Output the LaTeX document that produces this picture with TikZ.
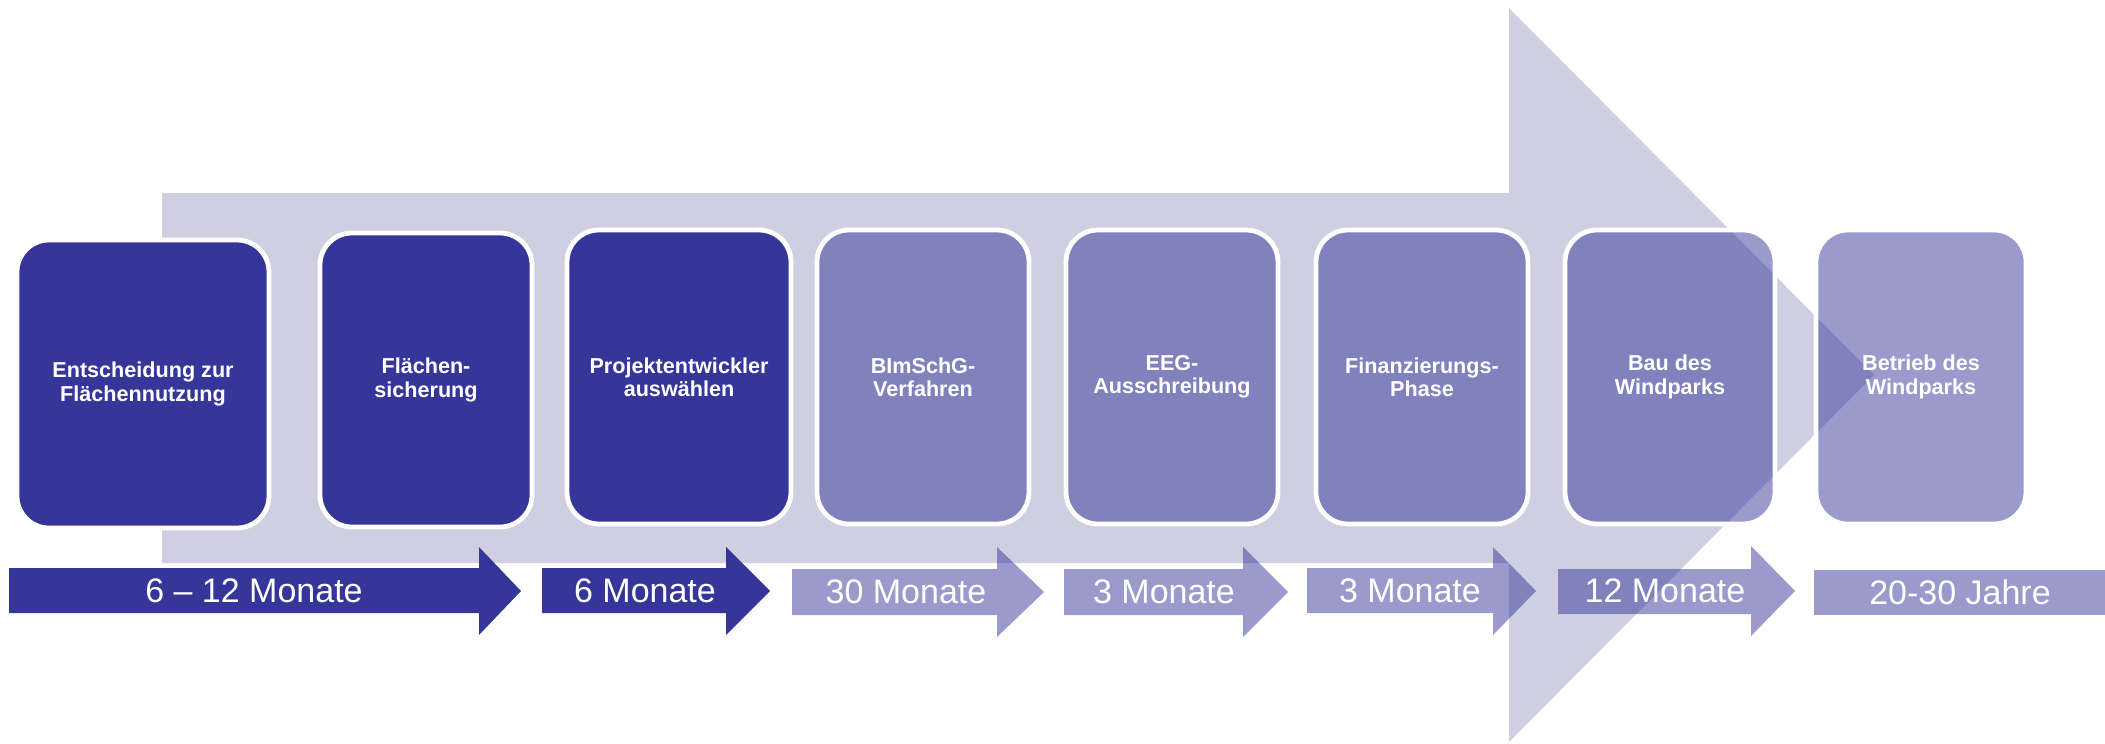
\documentclass[tikz,border=0pt]{standalone}
\usepackage{fontspec}
\setmainfont{Liberation Sans}
\usepackage{xcolor}
\definecolor{Indigo}{HTML}{35359A}
\definecolor{Haze}{HTML}{CFCFE1}
\colorlet{indigo}{Indigo}
\colorlet{haze}{Haze}
\usepackage{tikz}

\begin{document}
\begin{tikzpicture}[x=0.5pt,y=-0.5pt,
  stage/.style={draw=white,line width=2.4pt,rounded corners=16pt,text=white,inner sep=0pt,
    font=\fontsize{10.8}{11.7}\selectfont\bfseries,align=center,minimum height=147pt},
  donestage/.style={stage,fill=indigo},
  nextstage/.style={stage,fill=indigo,fill opacity=0.5,text opacity=1},
  durlabel/.style={text=white,inner sep=0pt,font=\fontsize{17}{20}\selectfont}]
\useasboundingbox (0,0) rectangle (2105,744);
% big background arrow
\fill[haze] (162,193) -- (1509,193) -- (1509,8) -- (1874,375) -- (1509,742) -- (1509,563) -- (162,563) -- cycle;
% stages
\node[donestage,minimum width=126pt,minimum height=144pt] (s1) at (143,384) {Entscheidung zur\\Flächennutzung};
\node[donestage,minimum width=106pt] (s2) at (426,380) {Flächen-\\sicherung};
\node[donestage,minimum width=112pt] (s3) at (679,377) {Projektentwickler\\auswählen};
\node[nextstage,minimum width=106pt] (s4) at (923,377) {BImSchG-\\Verfahren};
\node[nextstage,minimum width=106pt] (s5) at (1172,377) {EEG-\\Ausschreibung};
\node[nextstage,minimum width=106pt] (s6) at (1422,377) {Finanzierungs-\\Phase};
\node[nextstage,minimum width=105pt] (s7) at (1670,377) {Bau des\\Windparks};
\node[nextstage,minimum width=105pt] (s8) at (1921,377) {Betrieb des\\Windparks};
% durations
\fill[indigo] (9,568) -- (479,568) -- (479,547) -- (521,591) -- (479,635) -- (479,613) -- (9,613) -- cycle;
\fill[indigo] (542,568) -- (726,568) -- (726,547) -- (770,591) -- (726,635) -- (726,613) -- (542,613) -- cycle;
\fill[indigo,fill opacity=0.5] (792,569) -- (997,569) -- (997,547) -- (1044,592) -- (997,637) -- (997,615) -- (792,615) -- cycle;
\fill[indigo,fill opacity=0.5] (1064,569) -- (1243,569) -- (1243,547) -- (1288,592) -- (1243,637) -- (1243,615) -- (1064,615) -- cycle;
\fill[indigo,fill opacity=0.5] (1307,568) -- (1493,568) -- (1493,547) -- (1536,591) -- (1493,635) -- (1493,613) -- (1307,613) -- cycle;
\fill[indigo,fill opacity=0.5] (1558,569) -- (1751,569) -- (1751,546) -- (1795,591) -- (1751,636) -- (1751,614) -- (1558,614) -- cycle;
\fill[indigo,fill opacity=0.5] (1814,570) rectangle (2105,615);
\node[durlabel] (d1) at (254,591) {6 – 12 Monate};
\node[durlabel] (d2) at (645,591) {6 Monate};
\node[durlabel] (d3) at (906,592) {30 Monate};
\node[durlabel] (d4) at (1164,592) {3 Monate};
\node[durlabel] (d5) at (1410,591) {3 Monate};
\node[durlabel] (d6) at (1665,591) {12 Monate};
\node[durlabel] (d7) at (1960,592) {20-30 Jahre};
\end{tikzpicture}
\end{document}
